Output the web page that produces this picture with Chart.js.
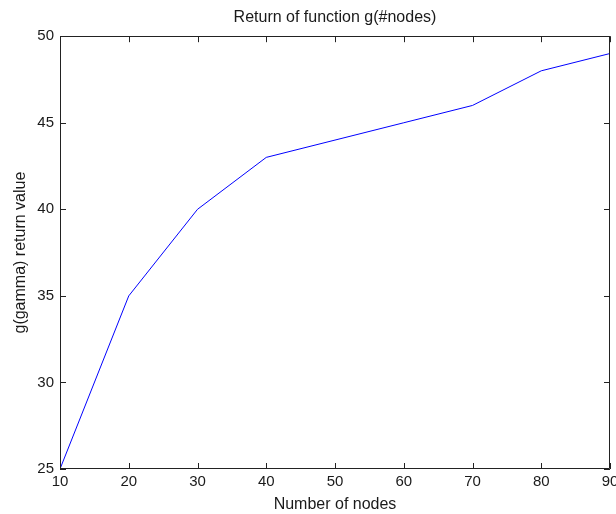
<!DOCTYPE html>
<html>
<head>
<meta charset="utf-8">
<script src="https://cdn.jsdelivr.net/npm/chart.js@4/dist/chart.umd.min.js"></script>
<style>
  body { margin: 0; background: #fff; }
  #wrap { width: 616px; height: 514px; }
</style>
</head>
<body>
<div id="wrap"><canvas id="myLineChart" width="616" height="514"></canvas></div>
<script>
// number of nodes vs. return value of g
var nodes = [10, 20, 30, 40, 50, 60, 70, 80, 90];
var gReturn = [25, 35, 40, 43, 44, 45, 46, 48, 49];
var xTicks = [10, 20, 30, 40, 50, 60, 70, 80, 90];
var yTicks = [25, 30, 35, 40, 45, 50];

var fontFamily = "'Liberation Sans', Arial, sans-serif";

// box around the axes plus inward tick marks on all four sides
var boxTicks = {
    id: 'boxTicks',
    afterDraw: function(chart) {
        var c = chart.ctx, a = chart.chartArea;
        var xs = chart.scales.x, ys = chart.scales.y;
        var len = 6;
        c.save();
        c.strokeStyle = '#222';
        c.lineWidth = 1;
        c.beginPath();
        c.rect(Math.round(a.left) + 0.5, Math.round(a.top) + 0.5,
               Math.round(a.right - a.left) - 1, Math.round(a.bottom - a.top) - 1);
        xTicks.forEach(function(v) {
            var px = Math.round(xs.getPixelForValue(v)) + 0.5;
            c.moveTo(px, a.bottom); c.lineTo(px, a.bottom - len);
            c.moveTo(px, a.top); c.lineTo(px, a.top + len);
        });
        yTicks.forEach(function(v) {
            var py = Math.round(ys.getPixelForValue(v)) + 0.5;
            c.moveTo(a.left, py); c.lineTo(a.left + len, py);
            c.moveTo(a.right, py); c.lineTo(a.right - len, py);
        });
        c.stroke();
        c.restore();
    }
};

var ctx = document.getElementById('myLineChart').getContext('2d');
var myLineChart = new Chart(ctx, {
    type: 'line',
    data: {
        datasets: [{
            data: nodes.map(function(n, i) { return {x: n, y: gReturn[i]}; }),
            borderColor: '#0000ff',
            borderWidth: 1,
            pointRadius: 0,
            tension: 0,
            fill: false
        }]
    },
    options: {
        responsive: false,
        animation: false,
        layout: { padding: { left: 0, right: 6, top: 0, bottom: 0 } },
        plugins: {
            legend: { display: false },
            tooltip: { enabled: false },
            title: {
                display: true,
                text: 'Return of function g(#nodes)',
                fullSize: false,
                color: '#1a1a1a',
                font: { family: fontFamily, size: 16, weight: 'normal' },
                padding: { top: 8, bottom: 9 }
            }
        },
        scales: {
            x: {
                type: 'linear',
                min: 10,
                max: 90,
                afterBuildTicks: function(scale) {
                    scale.ticks = xTicks.map(function(v) { return {value: v}; });
                },
                afterFit: function(scale) {
                    scale.height = 45;
                    scale.paddingLeft = 0;
                    scale.paddingRight = 0;
                },
                grid: { display: false, drawTicks: false },
                border: { display: false },
                ticks: {
                    color: '#1a1a1a',
                    padding: 4,
                    maxRotation: 0,
                    font: { family: fontFamily, size: 15 }
                },
                title: {
                    display: true,
                    text: 'Number of nodes',
                    color: '#1a1a1a',
                    font: { family: fontFamily, size: 16 },
                    padding: { top: 2, bottom: 0 }
                }
            },
            y: {
                min: 25,
                max: 50,
                afterBuildTicks: function(scale) {
                    scale.ticks = yTicks.map(function(v) { return {value: v}; });
                },
                afterFit: function(scale) { scale.width = 60; },
                grid: { display: false, drawTicks: false },
                border: { display: false },
                ticks: {
                    color: '#1a1a1a',
                    padding: 6,
                    font: { family: fontFamily, size: 15 }
                },
                title: {
                    display: true,
                    text: 'g(gamma) return value',
                    color: '#1a1a1a',
                    font: { family: fontFamily, size: 16 },
                    padding: { top: 11, bottom: 0 }
                }
            }
        }
    },
    plugins: [boxTicks]
});
</script>
</body>
</html>
